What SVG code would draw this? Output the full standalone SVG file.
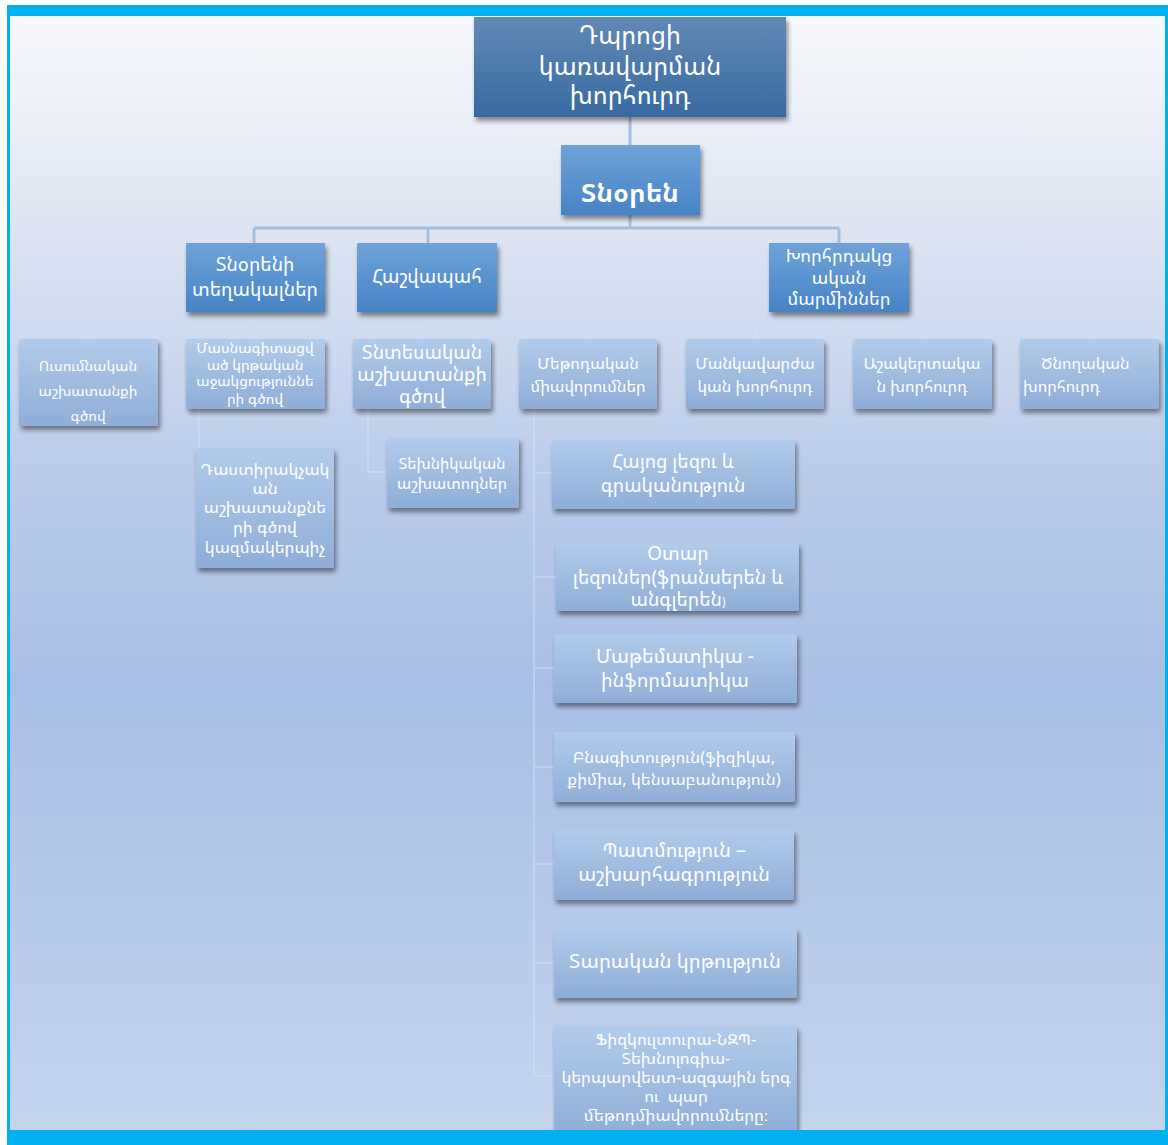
<svg xmlns="http://www.w3.org/2000/svg" width="1168" height="1145" viewBox="0 0 1168 1145">
<defs>
<linearGradient id="bg" x1="0" y1="0" x2="0" y2="1">
<stop offset="0" stop-color="#F7F8FC"/>
<stop offset="0.2" stop-color="#DCE4F2"/>
<stop offset="0.4" stop-color="#BCCDEA"/>
<stop offset="0.6" stop-color="#AABFE5"/>
<stop offset="1" stop-color="#C4D4ED"/>
</linearGradient>
<linearGradient id="gTop" x1="0" y1="0" x2="0" y2="1">
<stop offset="0" stop-color="#6189B6"/>
<stop offset="1" stop-color="#386AA0"/>
</linearGradient>
<linearGradient id="gMid" x1="0" y1="0" x2="0" y2="1">
<stop offset="0" stop-color="#6EA3D8"/>
<stop offset="1" stop-color="#4683C6"/>
</linearGradient>
<linearGradient id="gLow" x1="0" y1="0" x2="0" y2="1">
<stop offset="0" stop-color="#B1CCEB"/>
<stop offset="1" stop-color="#8EADD7"/>
</linearGradient>
<filter id="sh" x="-10%" y="-10%" width="125%" height="130%">
<feGaussianBlur in="SourceAlpha" stdDeviation="2.5"/>
<feOffset dx="2" dy="4" result="b"/>
<feComponentTransfer><feFuncA type="linear" slope="0.45"/></feComponentTransfer>
<feMerge><feMergeNode/><feMergeNode in="SourceGraphic"/></feMerge>
</filter>
</defs>
<style>
text{font-family:"Noto Sans Armenian","Noto Sans","DejaVu Sans",sans-serif;fill:#FFFFFF;text-anchor:middle}
.top{fill:url(#gTop)}
.mid{fill:url(#gMid)}
.low{fill:url(#gLow)}
.conn{stroke:#A3BEE0;stroke-width:3;fill:none}
.faint{stroke:#D4DFF0;stroke-opacity:0.55;stroke-width:2;fill:none}
</style>
<rect x="7" y="5" width="1161" height="1140" fill="#00B0F0"/>
<rect x="10" y="16" width="1155" height="1114" fill="url(#bg)"/>

<g id="connectors">
<path class="conn" d="M630 117V145M630 215V228M254 228H839M254 228V243M428 228V243M839 228V243"/>
<path class="faint" d="M88 326H423M88 326V339M255 312V339M423 326V339M589 326H1089M589 326V339M756 326V339M839 312V326M922 326V339M1089 326V339"/>
<path class="faint" d="M199 409V448M368 409V472H387M534 409V1076M534 473H552M534 577H556M534 668H554M534 767H554M534 864H554M534 963H554M534 1076H554"/>
</g>

<g id="n-board"><rect class="top" x="474" y="17" width="312" height="100" filter="url(#sh)"/>
<text font-size="25"><tspan x="630" y="44">Դպրոցի</tspan><tspan x="630" y="75">կառավարման</tspan><tspan x="630" y="104">խորհուրդ</tspan></text></g>

<g id="n-director"><rect class="mid" x="561" y="145" width="139" height="70" filter="url(#sh)"/>
<text font-size="26" font-weight="bold" x="630" y="202">Տնօրեն</text></g>

<g id="n-deputies"><rect class="mid" x="186" y="243" width="139" height="69" filter="url(#sh)"/>
<text font-size="19"><tspan x="255" y="271">Տնօրենի</tspan><tspan x="255" y="296">տեղակալներ</tspan></text></g>

<g id="n-accountant"><rect class="mid" x="357" y="243" width="140" height="69" filter="url(#sh)"/>
<text font-size="19" x="427" y="283">Հաշվապահ</text></g>

<g id="n-advisory"><rect class="mid" x="769" y="243" width="140" height="69" filter="url(#sh)"/>
<text font-size="18"><tspan x="839" y="262">Խորհրդակց</tspan><tspan x="839" y="284">ական</tspan><tspan x="839" y="305">մարմիններ</tspan></text></g>

<g id="n-edu"><rect class="low" x="19" y="339" width="139" height="87" rx="2" filter="url(#sh)"/>
<text font-size="14.5"><tspan x="88" y="371">Ուսումնական</tspan><tspan x="88" y="396">աշխատանքի</tspan><tspan x="88" y="421">գծով</tspan></text></g>

<g id="n-special"><rect class="low" x="186" y="339" width="139" height="70" rx="2" filter="url(#sh)"/>
<text font-size="14.5"><tspan x="255" y="353">Մասնագիտացվ</tspan><tspan x="255" y="370">ած կրթական</tspan><tspan x="255" y="386">աջակցություննե</tspan><tspan x="255" y="404">րի գծով</tspan></text></g>

<g id="n-econ"><rect class="low" x="353" y="339" width="138" height="70" rx="2" filter="url(#sh)"/>
<text font-size="19"><tspan x="422" y="359">Տնտեսական</tspan><tspan x="422" y="381">աշխատանքի</tspan><tspan x="422" y="403">գծով</tspan></text></g>

<g id="n-method"><rect class="low" x="519" y="339" width="138" height="70" rx="2" filter="url(#sh)"/>
<text font-size="16"><tspan x="588" y="369">Մեթոդական</tspan><tspan x="588" y="392">միավորումներ</tspan></text></g>

<g id="n-pedagog"><rect class="low" x="686" y="339" width="138" height="70" rx="2" filter="url(#sh)"/>
<text font-size="16"><tspan x="755" y="369">Մանկավարժա</tspan><tspan x="755" y="392">կան խորհուրդ</tspan></text></g>

<g id="n-student"><rect class="low" x="853" y="339" width="139" height="70" rx="2" filter="url(#sh)"/>
<text font-size="16"><tspan x="922" y="369">Աշակերտակա</tspan><tspan x="922" y="392">ն խորհուրդ</tspan></text></g>

<g id="n-parent"><rect class="low" x="1020" y="339" width="139" height="70" rx="2" filter="url(#sh)"/>
<text font-size="16" style="text-anchor:start"><tspan x="1041" y="369">Ծնողական</tspan><tspan x="1023" y="392">խորհուրդ</tspan></text></g>

<g id="n-upbringing"><rect class="low" x="196" y="448" width="138" height="120" rx="2" filter="url(#sh)"/>
<text font-size="16.5"><tspan x="265" y="475">Դաստիրակչակ</tspan><tspan x="265" y="494">ան</tspan><tspan x="265" y="513">աշխատանքնե</tspan><tspan x="265" y="533">րի գծով</tspan><tspan x="265" y="553">կազմակերպիչ</tspan></text></g>

<g id="n-tech"><rect class="low" x="387" y="438" width="132" height="70" rx="2" filter="url(#sh)"/>
<text font-size="15.5"><tspan x="452" y="469">Տեխնիկական</tspan><tspan x="452" y="489">աշխատողներ</tspan></text></g>

<g id="n-armenian"><rect class="low" x="552" y="440" width="243" height="69" rx="2" filter="url(#sh)"/>
<text font-size="19"><tspan x="673" y="468">Հայոց լեզու և</tspan><tspan x="673" y="492">գրականություն</tspan></text></g>

<g id="n-foreign"><rect class="low" x="556" y="543" width="243" height="68" rx="2" filter="url(#sh)"/>
<text font-size="19"><tspan x="678" y="560">Օտար</tspan><tspan x="678" y="584">լեզուներ(ֆրանսերեն և</tspan><tspan x="678" y="606">անգլերեն<tspan font-size="12">)</tspan></tspan></text></g>

<g id="n-math"><rect class="low" x="554" y="634" width="243" height="69" rx="2" filter="url(#sh)"/>
<text font-size="19.5"><tspan x="675" y="663">Մաթեմատիկա -</tspan><tspan x="675" y="687">ինֆորմատիկա</tspan></text></g>

<g id="n-science"><rect class="low" x="554" y="732" width="241" height="70" rx="2" filter="url(#sh)"/>
<text font-size="16.5"><tspan x="674" y="763">Բնագիտություն(ֆիզիկա,</tspan><tspan x="674" y="785">քիմիա, կենսաբանություն)</tspan></text></g>

<g id="n-history"><rect class="low" x="554" y="830" width="240" height="70" rx="2" filter="url(#sh)"/>
<text font-size="19.5"><tspan x="674" y="857">Պատմություն –</tspan><tspan x="674" y="881">աշխարհագրություն</tspan></text></g>

<g id="n-military"><rect class="low" x="554" y="928" width="243" height="70" rx="2" filter="url(#sh)"/>
<text font-size="20" x="675" y="968">Տարական կրթություն</text></g>

<g id="n-arts"><rect class="low" x="554" y="1026" width="243" height="110" rx="2" filter="url(#sh)"/>
<text font-size="16.5"><tspan x="676" y="1045">Ֆիզկուլտուրա-ՆԶՊ-</tspan><tspan x="676" y="1064">Տեխնոլոգիա-</tspan><tspan x="676" y="1083">կերպարվեստ-ազգային  երգ</tspan><tspan x="676" y="1102" xml:space="preserve">ու  պար</tspan><tspan x="676" y="1121">մեթոդմիավորումները։</tspan></text></g>

<rect x="7" y="1130" width="1161" height="15" fill="#00B0F0"/>
</svg>
